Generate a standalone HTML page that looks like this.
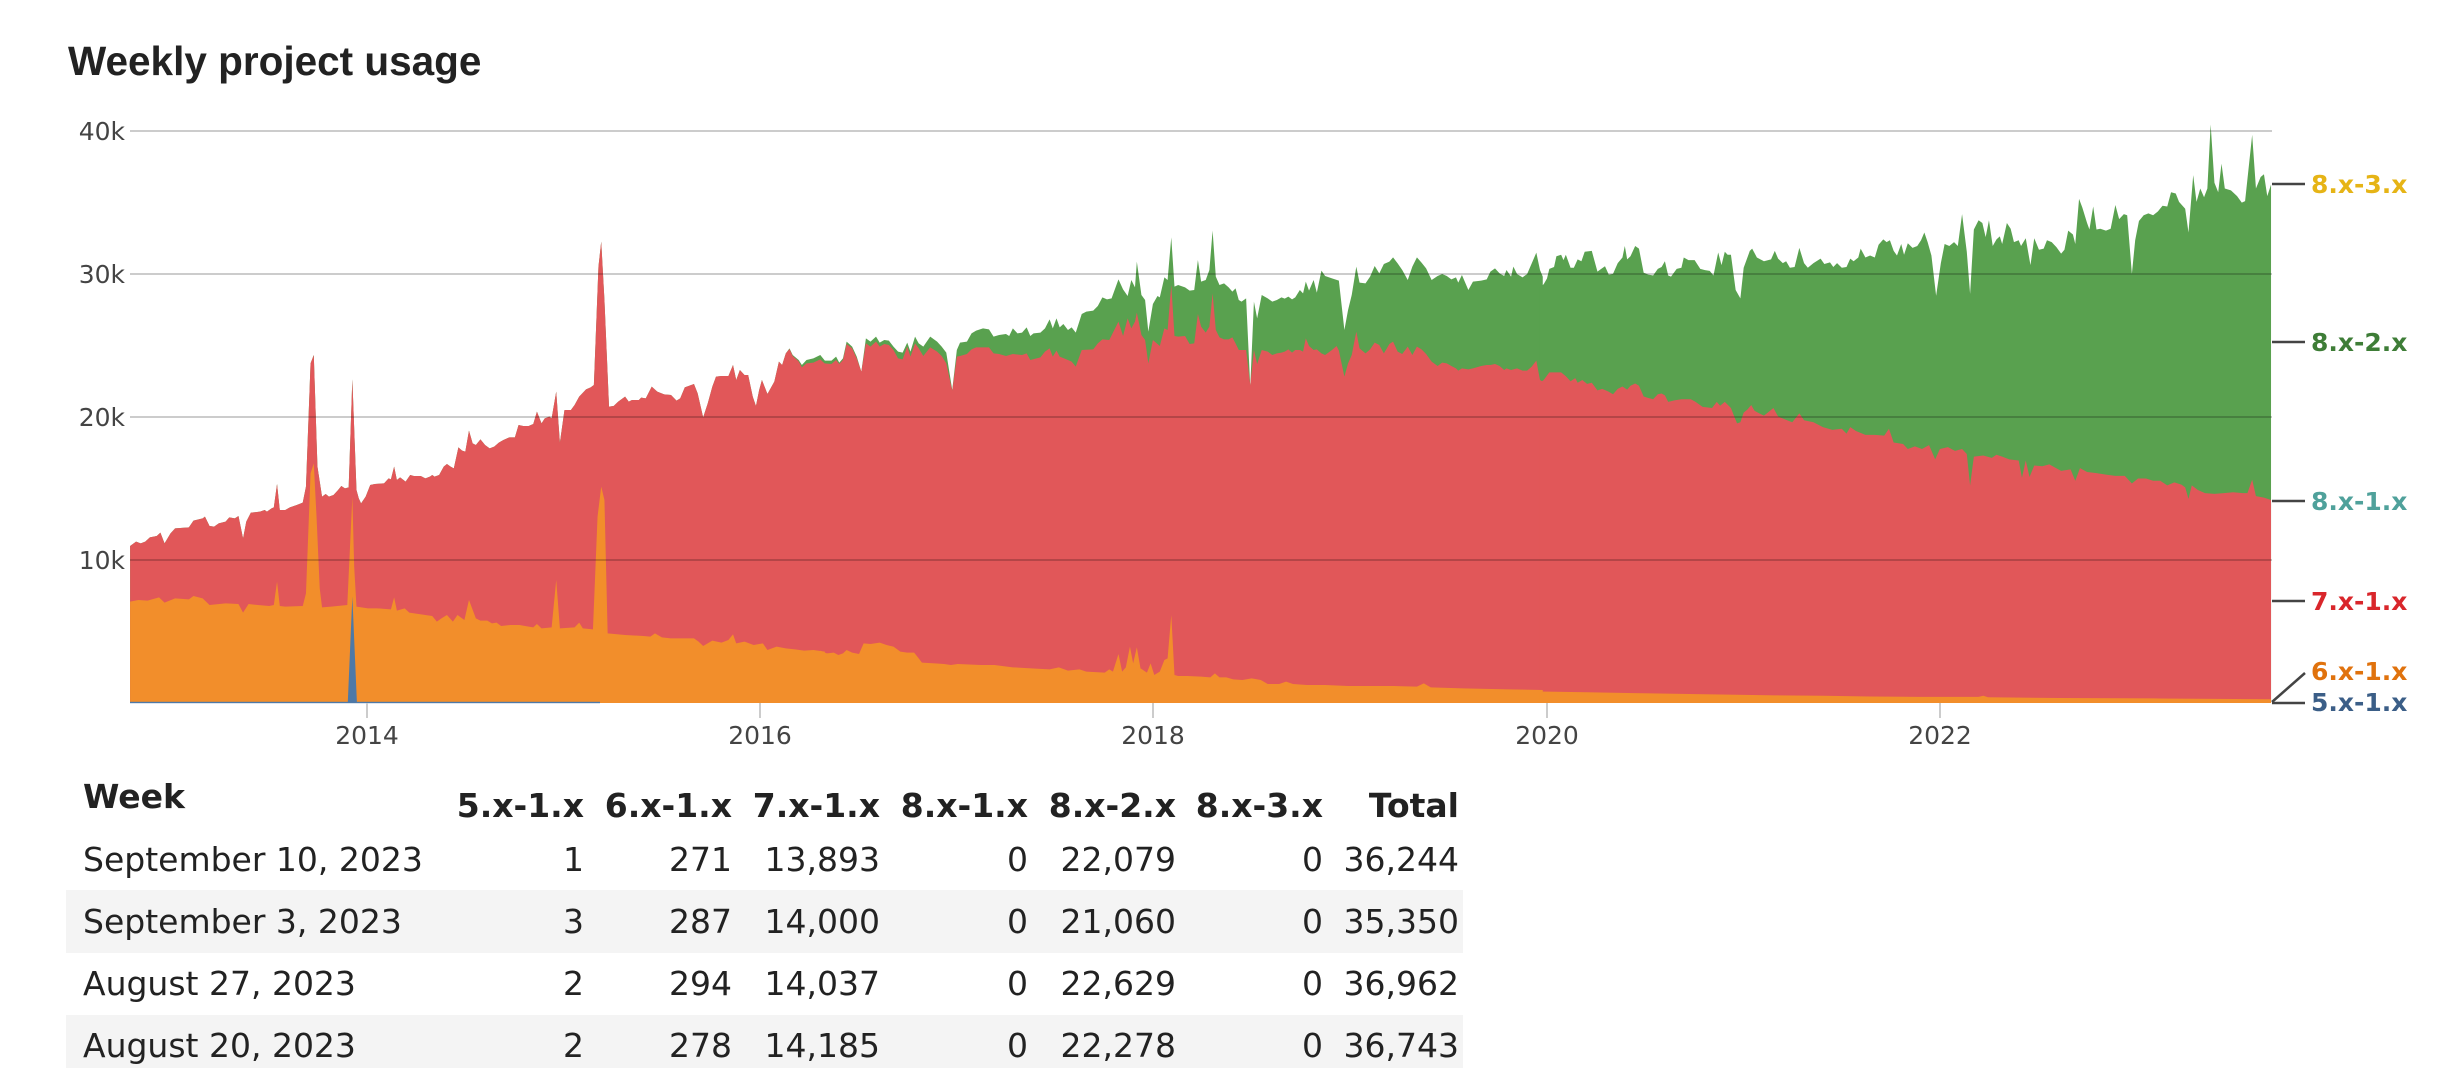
<!DOCTYPE html>
<html>
<head>
<meta charset="utf-8">
<style>
html,body{margin:0;padding:0;background:#fff;}
body{width:2447px;height:1068px;overflow:hidden;}
svg{display:block;}
.ax{font-family:"DejaVu Sans","Liberation Sans",sans-serif;font-size:25px;fill:#444;}
.lg{font-family:"DejaVu Sans","Liberation Sans",sans-serif;font-size:25px;font-weight:bold;}
.tb{font-family:"DejaVu Sans","Liberation Sans",sans-serif;font-size:33px;fill:#222;}
.th{font-family:"DejaVu Sans","Liberation Sans",sans-serif;font-size:33px;font-weight:bold;fill:#222;}
</style>
</head>
<body>
<svg width="2447" height="1068" viewBox="0 0 2447 1068" xmlns="http://www.w3.org/2000/svg">
<rect x="0" y="0" width="2447" height="1068" fill="#fff"/>
<text x="68" y="75" font-family="'Liberation Sans',Arial,sans-serif" font-size="40.5" font-weight="bold" fill="#222">Weekly project usage</text>

<!-- GREEN layer (total) -->
<g fill="#59a14f">
<g transform="translate(120,200) scale(0.45918,0.33333)">
<polygon points="22,1509 22,1038 35,1025 45,1030 55,1025 65,1012 80,1008 88,998 97,1030 110,1000 120,985 150,982 160,962 180,955 185,950 195,978 205,980 215,970 230,965 238,952 250,955 258,948 268,1015 275,965 285,938 305,935 315,930 320,935 330,925 335,922 342,852 348,930 360,930 370,922 385,915 398,908 405,860 415,490 422,465 430,800 440,890 448,882 455,890 465,885 475,870 482,858 490,865 498,862 506,538 515,870 520,895 525,910 535,890 545,855 555,852 575,850 585,835 590,838 597,800 603,840 610,832 622,845 632,825 640,828 655,828 665,835 675,830 680,825 685,830 695,825 705,800 712,792 720,800 727,805 737,742 745,752 752,755 760,692 768,730 775,735 785,718 795,735 805,745 815,740 825,728 835,720 848,712 860,712 868,675 878,678 890,678 900,672 908,635 918,670 925,655 935,650 940,655 950,575 958,728 968,630 982,630 990,615 1000,590 1015,568 1025,562 1032,555 1042,200 1048,125 1055,300 1065,620 1075,618 1085,605 1100,590 1108,605 1115,600 1130,600 1135,593 1145,595 1158,560 1170,575 1185,583 1200,585 1212,602 1220,595 1230,562 1250,552 1258,580 1270,652 1280,610 1290,560 1298,530 1310,528 1325,528 1335,495 1342,540 1350,510 1360,525 1368,525 1378,590 1385,618 1392,570 1398,540 1410,582 1425,545 1435,485 1442,495 1450,460 1458,445 1465,465 1478,480 1485,495 1495,480 1510,475 1525,465 1535,482 1535,1509"/>
</g>
<g transform="translate(820,200) scale(0.45918,0.33333)">
<polygon points="0,1509 0,465 10,482 25,482 35,470 42,488 50,475 58,425 70,440 80,470 90,515 100,415 110,425 122,410 130,428 140,420 150,422 160,440 170,455 180,458 190,428 197,455 207,410 215,430 225,440 240,410 255,425 265,440 275,458 288,570 298,450 305,428 320,425 330,400 340,392 355,385 368,388 378,410 390,405 405,402 412,408 420,385 430,400 440,398 450,382 458,408 465,400 480,398 490,385 500,358 507,385 515,355 522,382 530,372 540,390 548,382 557,398 570,342 580,335 595,332 605,318 615,292 625,298 635,295 650,238 660,268 670,288 678,240 686,262 690,185 700,285 708,300 715,395 725,312 735,288 740,292 750,232 757,240 765,112 772,260 780,255 795,262 805,272 815,270 823,180 830,245 840,240 848,210 855,92 862,230 870,255 880,250 890,262 898,275 905,265 912,300 918,305 928,295 937,560 945,305 952,355 962,285 975,295 985,305 995,300 1005,292 1012,296 1020,290 1028,298 1035,292 1045,270 1052,280 1058,245 1065,272 1075,240 1082,278 1092,212 1100,228 1115,235 1130,242 1142,390 1150,330 1158,285 1168,200 1175,248 1188,250 1198,230 1208,198 1218,220 1228,192 1240,185 1248,172 1258,190 1268,210 1280,240 1290,200 1300,172 1310,188 1320,205 1332,240 1345,228 1355,222 1365,228 1375,238 1385,232 1390,248 1398,225 1412,270 1422,245 1440,242 1452,238 1460,215 1470,205 1480,220 1490,228 1495,210 1505,230 1510,200 1518,222 1530,232 1540,222 1550,190 1560,158 1568,210 1574,230 1574,1509"/>
</g>
<g transform="translate(1539.9,109.93) scale(0.4717,0.38314)">
<polygon points="0,1548 0,462 8,455 15,440 20,415 30,410 35,382 45,378 50,392 55,378 65,412 72,412 80,390 88,395 95,370 110,368 122,422 130,415 138,408 146,430 155,428 165,400 175,385 180,355 185,390 192,382 202,355 210,362 220,425 230,430 240,432 250,415 258,410 265,395 272,432 278,435 290,415 300,412 305,385 315,392 328,392 340,415 350,418 360,420 368,432 378,372 385,405 392,370 398,378 405,378 415,470 425,492 432,412 445,368 450,362 460,385 475,395 490,390 498,368 505,388 515,400 522,395 530,412 540,410 550,360 560,400 568,412 580,400 595,388 603,402 615,398 622,410 630,400 640,412 650,410 658,388 665,395 675,385 680,362 690,385 700,380 710,385 718,352 728,338 735,345 742,340 750,368 757,380 766,350 772,378 780,348 790,360 800,355 808,340 815,320 822,345 830,380 840,485 850,400 858,350 868,355 878,345 886,355 895,272 905,370 912,480 920,312 930,288 938,295 945,332 952,288 960,355 968,338 975,330 980,350 990,295 998,310 1005,345 1015,340 1020,355 1030,335 1040,405 1048,335 1058,365 1068,362 1075,340 1085,345 1095,358 1105,375 1112,365 1120,315 1130,325 1135,350 1143,232 1150,255 1160,295 1165,312 1173,252 1180,312 1188,310 1200,315 1210,310 1220,248 1228,285 1238,272 1245,275 1255,428 1262,340 1270,290 1280,275 1290,270 1300,275 1310,265 1320,250 1330,252 1338,215 1348,218 1355,240 1368,258 1375,320 1385,170 1392,240 1400,205 1408,228 1415,205 1422,38 1430,190 1438,215 1445,140 1452,205 1465,210 1478,225 1488,242 1495,238 1510,65 1518,205 1528,175 1535,168 1542,225 1550,195 1550,1548"/>
</g>
</g>

<!-- RED layer -->
<g fill="#e15759">
<g transform="translate(120,200) scale(0.45918,0.33333)">
<polygon points="22,1509 22,1038 35,1025 45,1030 55,1025 65,1012 80,1008 88,998 97,1030 110,1000 120,985 150,982 160,962 180,955 185,950 195,978 205,980 215,970 230,965 238,952 250,955 258,948 268,1015 275,965 285,938 305,935 315,930 320,935 330,925 335,922 342,852 348,930 360,930 370,922 385,915 398,908 405,860 415,490 422,465 430,800 440,890 448,882 455,890 465,885 475,870 482,858 490,865 498,862 506,538 515,870 520,895 525,910 535,890 545,855 555,852 575,850 585,835 590,838 597,800 603,840 610,832 622,845 632,825 640,828 655,828 665,835 675,830 680,825 685,830 695,825 705,800 712,792 720,800 727,805 737,742 745,752 752,755 760,692 768,730 775,735 785,718 795,735 805,745 815,740 825,728 835,720 848,712 860,712 868,675 878,678 890,678 900,672 908,635 918,670 925,655 935,650 940,655 950,575 958,728 968,630 982,630 990,615 1000,590 1015,568 1025,562 1032,555 1042,200 1048,125 1055,300 1065,620 1075,618 1085,605 1100,590 1108,605 1115,600 1130,600 1135,593 1145,595 1158,560 1170,575 1185,583 1200,585 1212,602 1220,595 1230,562 1250,552 1258,580 1270,652 1280,610 1290,560 1298,530 1310,528 1325,528 1335,495 1342,540 1350,510 1360,525 1368,525 1378,590 1385,618 1392,570 1398,540 1410,582 1425,545 1435,485 1442,495 1450,460 1458,447 1465,468 1478,484 1485,502 1495,490 1510,488 1525,478 1535,492 1535,1509"/>
</g>
<g transform="translate(820,200) scale(0.45918,0.33333)">
<polygon points="0,1509 0,478 10,490 25,492 35,480 42,492 50,480 58,432 70,445 80,475 90,515 100,430 110,440 122,425 130,440 140,432 150,435 160,450 170,475 180,478 190,440 197,470 207,430 215,445 225,468 240,442 255,455 265,468 275,490 288,572 298,470 305,468 320,462 330,448 340,442 368,442 378,460 390,462 405,468 420,462 440,465 450,460 458,480 480,472 490,455 500,445 507,470 515,452 522,470 540,480 548,485 557,500 570,450 595,448 605,430 615,418 630,420 650,365 660,408 670,355 678,385 686,365 690,338 700,405 708,420 715,490 725,420 735,432 740,438 750,385 757,390 765,255 772,408 780,410 795,408 805,432 815,430 823,342 830,380 840,398 848,380 855,280 862,390 870,412 880,418 890,418 898,412 905,430 912,450 928,450 937,555 945,450 952,492 962,450 975,455 985,465 995,460 1005,458 1012,455 1020,448 1028,458 1035,450 1045,450 1052,455 1058,415 1065,438 1075,450 1082,448 1092,460 1100,465 1115,450 1125,438 1130,452 1142,530 1150,490 1158,465 1168,395 1175,445 1188,460 1198,448 1208,428 1218,435 1228,460 1240,432 1248,425 1258,455 1268,462 1280,440 1290,465 1300,440 1310,448 1320,462 1332,485 1345,498 1355,488 1365,490 1375,498 1385,505 1390,512 1398,505 1412,508 1422,505 1440,498 1452,495 1460,495 1470,492 1480,498 1490,510 1495,505 1505,510 1518,505 1530,512 1540,512 1550,500 1560,482 1568,540 1574,545 1574,1509"/>
</g>
<g transform="translate(1539.9,109.93) scale(0.4717,0.38314)">
<polygon points="0,1548 0,712 8,705 20,685 45,685 55,695 65,708 75,700 80,712 90,705 100,715 110,712 122,732 132,728 145,735 155,742 165,728 175,722 185,730 192,720 202,714 210,720 220,748 230,752 240,755 250,742 258,740 265,745 272,762 285,758 300,755 320,755 330,762 345,775 365,778 375,762 382,772 392,762 405,778 412,800 418,818 425,815 432,790 440,782 448,770 455,785 465,792 475,798 485,788 495,778 505,800 520,808 535,815 550,792 560,810 580,815 600,828 620,835 640,832 650,845 658,828 670,838 690,848 710,848 730,850 740,832 750,868 770,872 780,885 795,878 810,885 825,875 838,912 848,885 865,880 880,890 895,885 905,898 912,980 920,905 940,902 958,908 968,900 980,905 995,912 1015,915 1022,960 1030,915 1038,958 1048,928 1065,930 1080,925 1090,932 1105,942 1125,938 1135,968 1145,935 1160,945 1180,948 1200,952 1220,955 1240,955 1255,975 1268,962 1285,962 1300,968 1315,968 1330,980 1345,972 1360,978 1368,985 1375,1015 1382,980 1395,992 1410,1000 1430,1002 1450,1000 1470,998 1490,1000 1500,1000 1510,965 1518,1008 1535,1012 1550,1018 1550,1548"/>
</g>
</g>

<!-- ORANGE layer -->
<g fill="#f28e2b">
<g transform="translate(120,200) scale(0.45918,0.33333)">
<polygon points="22,1509 22,1205 40,1200 60,1202 85,1192 97,1208 120,1195 150,1198 160,1188 180,1195 195,1215 230,1210 258,1212 268,1238 280,1212 300,1215 325,1218 335,1215 342,1145 348,1218 360,1220 398,1218 405,1180 415,820 422,790 428,950 435,1165 440,1222 460,1220 495,1215 506,890 510,1100 515,1220 540,1225 560,1225 590,1228 597,1192 603,1232 620,1225 630,1238 650,1242 680,1248 690,1265 700,1255 712,1245 725,1265 735,1245 750,1260 760,1200 775,1255 785,1262 800,1262 810,1270 820,1268 830,1278 850,1275 870,1275 890,1280 900,1282 908,1272 918,1285 940,1282 950,1140 958,1285 990,1282 1000,1268 1008,1285 1030,1288 1040,950 1048,860 1055,900 1062,1300 1100,1305 1140,1308 1155,1310 1165,1300 1180,1312 1200,1315 1250,1315 1260,1325 1270,1338 1290,1322 1310,1328 1325,1320 1335,1303 1342,1330 1360,1325 1380,1335 1400,1330 1410,1350 1430,1340 1450,1345 1470,1348 1490,1352 1510,1350 1535,1355 1535,1509"/>
</g>
<g transform="translate(820,200) scale(0.45918,0.33333)">
<polygon points="0,1509 0,1352 15,1360 30,1358 40,1365 50,1360 58,1350 70,1358 85,1362 95,1330 110,1332 130,1328 145,1335 160,1340 175,1355 190,1358 205,1358 215,1375 222,1388 250,1390 270,1392 285,1395 300,1392 350,1395 380,1395 420,1402 460,1405 500,1408 520,1402 540,1412 565,1408 580,1415 620,1418 630,1408 638,1415 650,1362 658,1415 666,1402 675,1340 682,1390 690,1342 698,1405 712,1418 720,1390 728,1425 740,1415 750,1380 757,1375 765,1245 772,1425 780,1428 800,1428 830,1430 850,1432 860,1420 870,1432 885,1432 900,1438 920,1440 940,1435 960,1440 975,1452 1000,1452 1015,1445 1030,1452 1060,1455 1100,1455 1150,1458 1200,1458 1250,1458 1300,1460 1315,1450 1330,1462 1400,1465 1500,1468 1574,1470 1574,1509"/>
</g>
<g transform="translate(1539.9,109.93) scale(0.4717,0.38314)">
<polygon points="0,1548 0,1518 100,1520 200,1522 300,1524 400,1526 500,1528 600,1529 700,1531 800,1532 930,1532 940,1529 950,1533 1100,1535 1300,1536 1550,1538 1550,1548"/>
</g>
</g>

<!-- BLUE layer -->
<g fill="#4e79a7">
<g transform="translate(120,200) scale(0.45918,0.33333)">
<polygon points="496,1509 506,1190 516,1509"/>
</g>
<rect x="130" y="701.8" width="470" height="1.4"/>
</g>

<!-- gridlines -->
<g stroke="#000" stroke-opacity="0.2" stroke-width="2">
<line x1="130" y1="131" x2="2272" y2="131"/>
<line x1="130" y1="274" x2="2272" y2="274"/>
<line x1="130" y1="417" x2="2272" y2="417"/>
<line x1="130" y1="560" x2="2272" y2="560"/>
</g>

<!-- y labels -->
<g class="ax" text-anchor="end">
<text x="125" y="140">40k</text>
<text x="125" y="283">30k</text>
<text x="125" y="426">20k</text>
<text x="125" y="569">10k</text>
</g>

<!-- x ticks -->
<g stroke="#ccc" stroke-width="2">
<line x1="367" y1="703" x2="367" y2="718"/>
<line x1="760" y1="703" x2="760" y2="718"/>
<line x1="1153" y1="703" x2="1153" y2="718"/>
<line x1="1547" y1="703" x2="1547" y2="718"/>
<line x1="1940" y1="703" x2="1940" y2="718"/>
</g>
<g class="ax" text-anchor="middle">
<text x="367" y="744">2014</text>
<text x="760" y="744">2016</text>
<text x="1153" y="744">2018</text>
<text x="1547" y="744">2020</text>
<text x="1940" y="744">2022</text>
</g>

<!-- legend leaders -->
<g stroke="#444" stroke-width="2.5" fill="none">
<line x1="2272" y1="184" x2="2305" y2="184"/>
<line x1="2272" y1="342" x2="2305" y2="342"/>
<line x1="2272" y1="501" x2="2305" y2="501"/>
<line x1="2272" y1="601" x2="2305" y2="601"/>
<line x1="2272" y1="702" x2="2305" y2="673"/>
<line x1="2272" y1="703" x2="2305" y2="703"/>
</g>
<g class="lg">
<text x="2311" y="193" fill="#e6b416">8.x-3.x</text>
<text x="2311" y="351" fill="#3e7d37">8.x-2.x</text>
<text x="2311" y="510" fill="#4fa19b">8.x-1.x</text>
<text x="2311" y="610" fill="#d9262b">7.x-1.x</text>
<text x="2311" y="680" fill="#e0720d">6.x-1.x</text>
<text x="2311" y="711" fill="#3b5e87">5.x-1.x</text>
</g>

<!-- table -->
<rect x="66" y="890" width="1397" height="63" fill="#f4f4f4"/>
<rect x="66" y="1015" width="1397" height="63" fill="#f4f4f4"/>
<text class="th" x="83" y="808">Week</text>
<g class="th" text-anchor="end">
<text x="584" y="817">5.x-1.x</text>
<text x="732" y="817">6.x-1.x</text>
<text x="880" y="817">7.x-1.x</text>
<text x="1028" y="817">8.x-1.x</text>
<text x="1176" y="817">8.x-2.x</text>
<text x="1323" y="817">8.x-3.x</text>
<text x="1459" y="817">Total</text>
</g>
<g class="tb">
<text x="83" y="871">September 10, 2023</text>
<text x="83" y="933">September 3, 2023</text>
<text x="83" y="995">August 27, 2023</text>
<text x="83" y="1057">August 20, 2023</text>
</g>
<g class="tb" text-anchor="end">
<text x="584" y="871">1</text><text x="732" y="871">271</text><text x="880" y="871">13,893</text><text x="1028" y="871">0</text><text x="1176" y="871">22,079</text><text x="1323" y="871">0</text><text x="1459" y="871">36,244</text>
<text x="584" y="933">3</text><text x="732" y="933">287</text><text x="880" y="933">14,000</text><text x="1028" y="933">0</text><text x="1176" y="933">21,060</text><text x="1323" y="933">0</text><text x="1459" y="933">35,350</text>
<text x="584" y="995">2</text><text x="732" y="995">294</text><text x="880" y="995">14,037</text><text x="1028" y="995">0</text><text x="1176" y="995">22,629</text><text x="1323" y="995">0</text><text x="1459" y="995">36,962</text>
<text x="584" y="1057">2</text><text x="732" y="1057">278</text><text x="880" y="1057">14,185</text><text x="1028" y="1057">0</text><text x="1176" y="1057">22,278</text><text x="1323" y="1057">0</text><text x="1459" y="1057">36,743</text>
</g>
</svg>
</body>
</html>
